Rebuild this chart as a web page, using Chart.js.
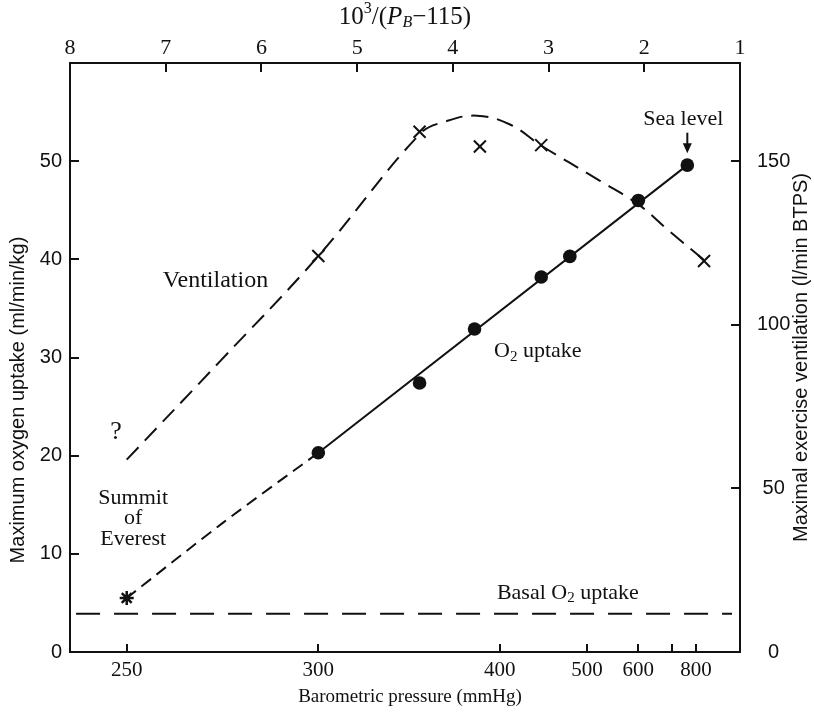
<!DOCTYPE html>
<html>
<head>
<meta charset="utf-8">
<script src="https://cdn.jsdelivr.net/npm/chart.js@4.4.1/dist/chart.umd.min.js"></script>
<style>
  html, body { margin: 0; padding: 0; background: #ffffff; }
  #wrap { width: 814px; height: 713px; }
</style>
</head>
<body>
<div id="wrap"><canvas id="c" width="814" height="713"></canvas></div>
<script>
// ---------------- data ----------------
// Maximal O2 uptake (ml/min/kg) vs barometric pressure (mmHg)
const o2Pressure = [300, 345, 380, 440, 475, 600, 760];
const o2Uptake   = [20.3, 27.4, 32.9, 38.2, 40.3, 46.0, 49.6];
// summit of Everest estimate
const summitPressure = [250];
const summitUptake   = [5.5];
// solid fitted line through the measured points
const o2FitPressure = [300, 760];
const o2FitUptake   = [20.3, 49.6];
// dashed extrapolation to the summit
const o2ExtPressure = [250, 271, 300];
const o2ExtUptake   = [5.5, 13.1, 20.3];
// maximal exercise ventilation (l/min BTPS), measured points (crosses)
const ventPressure = [300, 345, 384, 440, 842];
const ventValues   = [121.0, 159.0, 154.5, 154.9, 119.5];
// dashed ventilation curve
const ventCurvePressure = [250, 270.5, 300, 345.3, 360, 381.8, 408.9, 439.8, 521, 604, 693, 842];
const ventCurveValues   = [58.8, 88.9, 121.0, 158.4, 162.1, 163.9, 161.2, 154.8, 144.0, 136.4, 128.4, 119.8];
// basal O2 uptake
const basalPressure = [241, 1038];
const basalUptake   = [3.9, 3.9];
// axis ticks
const pressureTicks      = [250, 300, 400, 500, 600, 700, 800];
const pressureTickLabels = ['250', '300', '400', '500', '600', '', '800'];
const leftTicks  = [0, 10, 20, 30, 40, 50];
const rightTicks = [0, 50, 100, 150];
const topTicks   = [1, 2, 3, 4, 5, 6, 7, 8];

// x position is 10^3/(PB - 115), as on the top axis
const toU = pb => 1000 / (pb - 115);
const pts = (xs, ys) => xs.map((p, i) => ({ x: toU(p), y: ys[i] }));

const SERIF = '"Liberation Serif", "Times New Roman", serif';
const SANS = '"Liberation Sans", Arial, sans-serif';
const INK = '#111111';

function drawRich(ctx, parts, cx, cy, align) {
  let w = 0;
  parts.forEach(p => { ctx.font = p.f; p.w = ctx.measureText(p.t).width; w += p.w; });
  let x = align === 'left' ? cx : cx - w / 2;
  ctx.textBaseline = 'middle';
  ctx.textAlign = 'left';
  parts.forEach(p => { ctx.font = p.f; ctx.fillText(p.t, x, cy + (p.dy || 0)); x += p.w; });
}

const textPlugin = {
  id: 'texts',
  afterDraw(chart) {
    const { ctx, chartArea: ca, scales } = chart;
    const sx = scales.x, sy = scales.y;
    const X = u => sx.getPixelForValue(u);
    const Y = v => sy.getPixelForValue(v);
    ctx.save();
    ctx.fillStyle = INK;
    ctx.strokeStyle = INK;

    // top title 10^3/(P_B - 115)
    drawRich(ctx, [
      { t: '10', f: `25px ${SERIF}` },
      { t: '3', f: `16px ${SERIF}`, dy: -8 },
      { t: '/(', f: `25px ${SERIF}` },
      { t: 'P', f: `italic 25px ${SERIF}` },
      { t: 'B', f: `italic 16px ${SERIF}`, dy: 6 },
      { t: '\u2212115)', f: `25px ${SERIF}` }
    ], (ca.left + ca.right) / 2, 17, 'center');

    // bottom title
    ctx.font = `19px ${SERIF}`;
    ctx.textAlign = 'center';
    ctx.textBaseline = 'middle';
    ctx.fillText('Barometric pressure (mmHg)', 410, 697);

    // left title
    ctx.save();
    ctx.translate(18, 400);
    ctx.rotate(-Math.PI / 2);
    ctx.font = `20px ${SANS}`;
    ctx.fillText('Maximum oxygen uptake (ml/min/kg)', 0, 0);
    ctx.restore();

    // right title
    ctx.save();
    ctx.translate(801, (ca.top + ca.bottom) / 2);
    ctx.rotate(-Math.PI / 2);
    ctx.font = `20px ${SANS}`;
    ctx.fillText('Maximal exercise ventilation (l/min BTPS)', 0, 0);
    ctx.restore();

    // annotations
    ctx.font = `24px ${SERIF}`;
    ctx.textAlign = 'left';
    ctx.fillText('Ventilation', X(7.03), Y(37.8));
    ctx.textAlign = 'center';
    ctx.font = `26px ${SERIF}`;
    ctx.fillText('?', X(7.52), Y(22.4));
    ctx.font = `22px ${SERIF}`;
    ctx.fillText('Summit', X(7.34), Y(15.7));
    ctx.fillText('of', X(7.34), Y(13.6));
    ctx.fillText('Everest', X(7.34), Y(11.5));

    drawRich(ctx, [
      { t: 'O', f: `22px ${SERIF}` },
      { t: '2', f: `15px ${SERIF}`, dy: 5 },
      { t: ' uptake', f: `22px ${SERIF}` }
    ], X(3.57), Y(30.6), 'left');

    drawRich(ctx, [
      { t: 'Basal O', f: `22px ${SERIF}` },
      { t: '2', f: `15px ${SERIF}`, dy: 5 },
      { t: ' uptake', f: `22px ${SERIF}` }
    ], X(3.54), Y(6.0), 'left');

    // sea level label with arrow
    const seaX = X(toU(760));
    ctx.font = `22px ${SERIF}`;
    ctx.textAlign = 'center';
    ctx.fillText('Sea level', seaX - 4, Y(54.3));
    const a1 = Y(52.9), a2 = Y(50.8);
    ctx.lineWidth = 2;
    ctx.beginPath();
    ctx.moveTo(seaX, a1);
    ctx.lineTo(seaX, a2 - 6);
    ctx.stroke();
    ctx.beginPath();
    ctx.moveTo(seaX - 4.5, a2 - 10);
    ctx.lineTo(seaX + 4.5, a2 - 10);
    ctx.lineTo(seaX, a2);
    ctx.closePath();
    ctx.fill();
    ctx.restore();
  }
};

const fixedSize = (dim, val) => (scale) => { scale[dim] = val; };

new Chart(document.getElementById('c'), {
  type: 'scatter',
  data: {
    datasets: [
      { // O2 uptake points
        data: pts(o2Pressure, o2Uptake), yAxisID: 'y',
        pointStyle: 'circle', pointRadius: 6.8, backgroundColor: INK, borderColor: INK, borderWidth: 0,
        showLine: false
      },
      { // summit star
        data: pts(summitPressure, summitUptake), yAxisID: 'y',
        pointStyle: 'star', pointRadius: 7, borderColor: INK, backgroundColor: INK, borderWidth: 2.5,
        showLine: false
      },
      { // ventilation crosses
        data: pts(ventPressure, ventValues), yAxisID: 'y2',
        pointStyle: 'crossRot', pointRadius: 8.5, borderColor: INK, borderWidth: 2,
        showLine: false
      },
      { // solid O2 fit line
        data: pts(o2FitPressure, o2FitUptake), yAxisID: 'y',
        showLine: true, pointRadius: 0, borderColor: INK, borderWidth: 2
      },
      { // dashed O2 extrapolation
        data: pts(o2ExtPressure, o2ExtUptake), yAxisID: 'y',
        showLine: true, pointRadius: 0, borderColor: INK, borderWidth: 2,
        borderDash: [12, 7], tension: 0.3
      },
      { // ventilation curve
        data: pts(ventCurvePressure, ventCurveValues), yAxisID: 'y2',
        showLine: true, pointRadius: 0, borderColor: INK, borderWidth: 2,
        borderDash: [17, 9], tension: 0.4
      },
      { // basal
        data: pts(basalPressure, basalUptake), yAxisID: 'y',
        showLine: true, pointRadius: 0, borderColor: INK, borderWidth: 2,
        borderDash: [24, 14]
      }
    ]
  },
  options: {
    responsive: false,
    animation: false,
    devicePixelRatio: 1,
    layout: { padding: 0 },
    plugins: { legend: { display: false }, tooltip: { enabled: false } },
    scales: {
      x: {
        type: 'linear', position: 'bottom', min: 1, max: 8, reverse: true,
        afterBuildTicks: s => { s.ticks = pressureTicks.map(p => ({ value: toU(p) })); },
        afterFit: fixedSize('height', 61),
        ticks: {
          autoSkip: false, maxRotation: 0, color: INK, padding: 14,
          font: { family: SERIF, size: 21 },
          callback: (v, i) => pressureTickLabels[i]
        },
        grid: { drawOnChartArea: false, tickLength: -8, color: INK, lineWidth: 2 },
        border: { display: true, color: INK, width: 2 }
      },
      x2: {
        type: 'linear', position: 'top', min: 1, max: 8, reverse: true,
        afterBuildTicks: s => { s.ticks = topTicks.map(v => ({ value: v })); },
        afterFit: fixedSize('height', 63),
        ticks: {
          autoSkip: false, maxRotation: 0, color: INK, padding: 11,
          font: { family: SERIF, size: 22 }
        },
        grid: { drawOnChartArea: false, tickLength: -9, color: INK, lineWidth: 2 },
        border: { display: true, color: INK, width: 2 }
      },
      y: {
        type: 'linear', position: 'left', min: 0, max: 60,
        afterBuildTicks: s => { s.ticks = leftTicks.map(v => ({ value: v })); },
        afterFit: fixedSize('width', 70),
        ticks: { color: INK, padding: 17, font: { family: SANS, size: 20 } },
        grid: { drawOnChartArea: false, tickLength: -9, color: INK, lineWidth: 2 },
        border: { display: true, color: INK, width: 2 }
      },
      y2: {
        type: 'linear', position: 'right', min: 0, max: 180,
        afterBuildTicks: s => { s.ticks = rightTicks.map(v => ({ value: v })); },
        afterFit: fixedSize('width', 74),
        ticks: { color: INK, padding: 26, crossAlign: 'center', font: { family: SANS, size: 20 } },
        grid: { drawOnChartArea: false, tickLength: -9, color: INK, lineWidth: 2 },
        border: { display: true, color: INK, width: 2 }
      }
    }
  },
  plugins: [textPlugin]
});
</script>
</body>
</html>
